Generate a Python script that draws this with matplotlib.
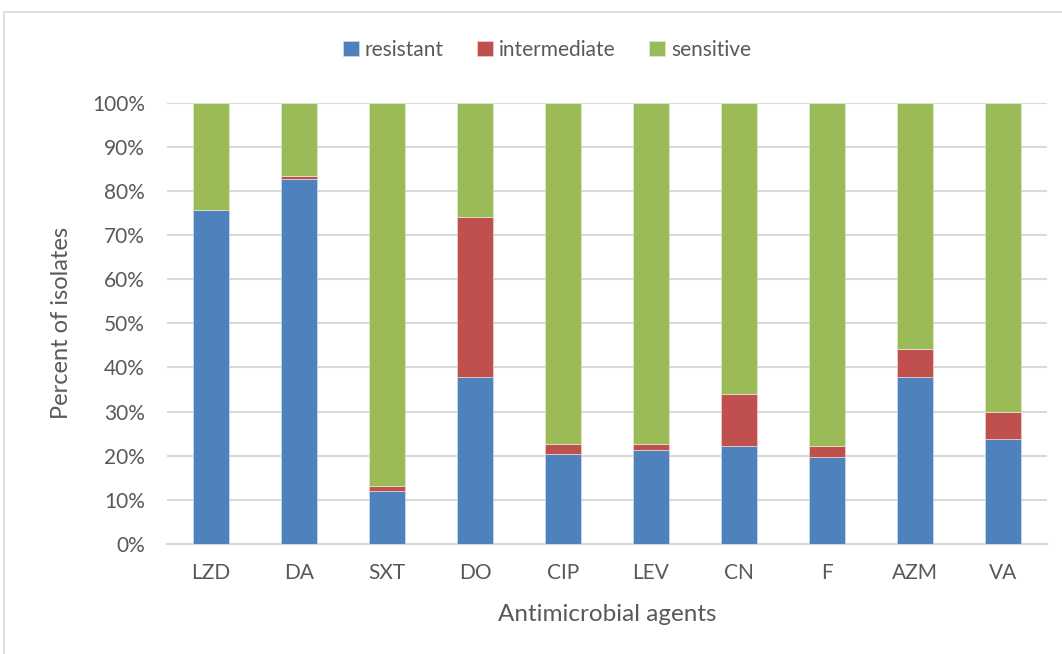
import matplotlib
matplotlib.use("Agg")
import matplotlib.pyplot as plt
import numpy as np
from matplotlib.patches import Rectangle
from matplotlib.ticker import PercentFormatter

# values (percent of isolates)
agents = ["LZD", "DA", "SXT", "DO", "CIP", "LEV", "CN", "F", "AZM", "VA"]
resistant = [75.6, 82.8, 12.0, 37.8, 20.5, 21.2, 22.1, 19.7, 37.8, 23.7]
intermediate = [0.0, 0.7, 1.2, 36.2, 2.2, 1.5, 11.8, 2.4, 6.4, 6.2]
sensitive = [100 - r - i for r, i in zip(resistant, intermediate)]

plt.rcParams["font.family"] = ["Lato", "DejaVu Sans"]
TXT = "#595959"
GRID = "#d9d9d9"

fig = plt.figure(figsize=(10.62, 6.54), dpi=100)
ax = fig.add_axes([167 / 1062, 110 / 654, 880 / 1062, 441.3 / 654])

# chart area border
fig.add_artist(Rectangle((4 / 1062, -0.1), 1.2, 1 - 12 / 654 + 0.1,
                         transform=fig.transFigure, fill=False,
                         edgecolor=GRID, linewidth=1.2))

x = np.arange(len(agents))
res = np.array(resistant) / 100
inter = np.array(intermediate) / 100
sens = np.array(sensitive) / 100
w = 0.4
ax.bar(x, res, w, color="#4F81BD", edgecolor="#c9d6ea", linewidth=0.6,
       label="resistant", zorder=3)
ax.bar(x, inter, w, bottom=res, color="#C0504D", edgecolor="#ebc9c8",
       linewidth=0.6, label="intermediate", zorder=3)
ax.bar(x, sens, w, bottom=res + inter, color="#9BBB59", edgecolor="#dde8c9",
       linewidth=0.6, label="sensitive", zorder=3)

ax.set_xlim(-0.5, len(agents) - 0.5)
ax.set_ylim(0, 1)
ax.set_yticks(np.arange(0, 1.01, 0.1))
ax.yaxis.set_major_formatter(PercentFormatter(1.0, decimals=0))
ax.set_xticks(x)
ax.set_xticklabels(agents)
ax.tick_params(axis="both", length=0, labelsize=15, colors=TXT)
ax.tick_params(axis="y", pad=16)
ax.tick_params(axis="x", pad=14)
ax.grid(axis="y", color=GRID, linewidth=1.5, zorder=0)
for s in ["left", "right", "top"]:
    ax.spines[s].set_visible(False)
ax.spines["bottom"].set_color(GRID)
ax.spines["bottom"].set_linewidth(1.5)

ax.set_ylabel("Percent of isolates", fontsize=17, color=TXT, labelpad=14)
ax.set_xlabel("Antimicrobial agents", fontsize=17.5, color=TXT, labelpad=15)

fig.legend(loc="center", bbox_to_anchor=(0.515, 0.924), ncol=3, frameon=False,
           fontsize=15, labelcolor=TXT, handlelength=0.75, handleheight=0.75,
           handletextpad=0.3, columnspacing=1.6)

fig.savefig("out.png", dpi=100)
